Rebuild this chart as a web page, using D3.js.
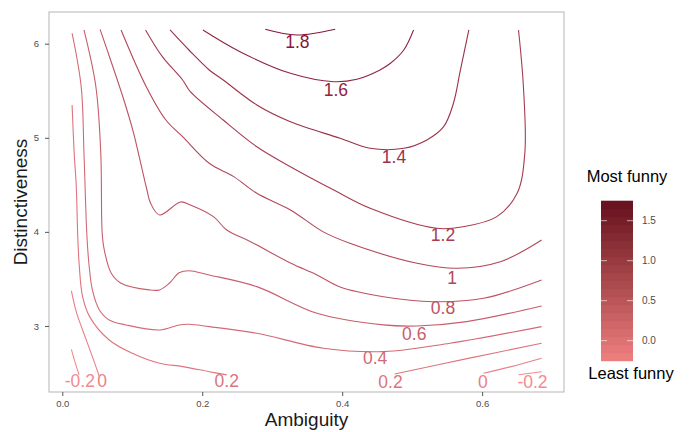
<!DOCTYPE html>
<meta charset="utf-8">
<head>
  <meta charset="utf-8">
  <script src="https://d3js.org/d3.v7.min.js"></script>
  <style>
    body { margin: 0; background: #fff; }
    text { font-family: "Liberation Sans", Arial, sans-serif; }
  </style>
</head>
<body>
<svg width="689" height="432"></svg>
<script>
// contour levels and tick values
var levels = [-0.2, 0, 0.2, 0.4, 0.6, 0.8, 1.0, 1.2, 1.4, 1.6, 1.8];
var xTicks = [0, 0.2, 0.4, 0.6];
var yTicks = [3, 4, 5, 6];
var legendTicks = [0, 0.5, 1.0, 1.5];

// contour lines, [ambiguity, distinctiveness]
var lineNeg02 = [[[0.013,2.752],[0.018,2.62],[0.024,2.48]],
                 [[0.652,2.482],[0.685,2.514]]];
var line00 = [[[0.013,3.372],[0.020,3.15],[0.029,2.957],[0.043,2.674],[0.053,2.461]],
              [[0.602,2.497],[0.64,2.565],[0.685,2.657]]];
var line02 = [[[0.014,5.349],[0.017,4.835],[0.020,4.48],[0.022,3.968],[0.024,3.666],[0.029,3.311],
               [0.039,3.099],[0.067,2.851],[0.100,2.71],[0.139,2.604],[0.172,2.568],[0.210,2.514],[0.235,2.48]],
              [[0.475,2.49],[0.58,2.655],[0.685,2.816]]];
var line04 = [[[0.014,6.111],[0.027,5.543],[0.031,4.835],[0.035,3.985],[0.038,3.666],[0.043,3.383],
               [0.053,3.17],[0.067,3.064],[0.091,3.011],[0.139,2.957],[0.167,3.011],[0.181,3.018],
               [0.210,2.993],[0.278,2.922],[0.373,2.763],[0.459,2.727],[0.554,2.816],[0.685,2.993]]];
var line06 = [[[0.031,6.146],[0.048,5.543],[0.055,4.835],[0.057,3.985],[0.060,3.808],[0.070,3.56],
               [0.084,3.454],[0.124,3.383],[0.139,3.383],[0.153,3.454],[0.167,3.566],[0.181,3.587],
               [0.210,3.542],[0.278,3.418],[0.364,3.135],[0.459,3.011],[0.507,3.0],[0.578,3.046],[0.685,3.213]]];
var line08 = [[[0.054,6.153],[0.069,5.827],[0.088,5.402],[0.102,5.048],[0.111,4.764],[0.121,4.445],
               [0.126,4.307],[0.139,4.18],[0.169,4.318],[0.183,4.286],[0.216,4.162],[0.235,4.02],
               [0.269,3.896],[0.326,3.669],[0.364,3.542],[0.397,3.414],[0.459,3.311],[0.530,3.258],
               [0.602,3.294],[0.685,3.489]]];
var line10 = [[[0.084,6.146],[0.120,5.543],[0.148,5.189],[0.172,5.012],[0.210,4.729],[0.245,4.587],
               [0.278,4.41],[0.326,4.233],[0.373,4.0],[0.411,3.879],[0.507,3.666],[0.564,3.613],
               [0.626,3.683],[0.685,3.914]]];
var line12 = [[[0.119,6.146],[0.143,5.862],[0.172,5.614],[0.183,5.49],[0.230,5.189],[0.278,4.905],
               [0.326,4.693],[0.388,4.445],[0.440,4.251],[0.535,4.038],[0.573,4.055],[0.621,4.162],
               [0.650,4.41],[0.661,4.835],[0.659,5.543],[0.652,6.146]]];
var line14 = [[[0.154,6.146],[0.181,5.933],[0.210,5.721],[0.230,5.614],[0.278,5.349],[0.326,5.171],
               [0.397,4.995],[0.440,4.888],[0.488,4.888],[0.521,4.977],[0.545,5.118],[0.559,5.367],
               [0.569,5.721],[0.581,6.146]]];
var line16 = [[[0.201,6.146],[0.254,5.915],[0.326,5.685],[0.388,5.596],[0.421,5.622],[0.454,5.721],
               [0.469,5.792],[0.488,5.933],[0.502,6.146]]];
var line18 = [[[0.290,6.153],[0.335,6.092],[0.390,6.153]]];

var contourSegs = [lineNeg02, line00, line02, line04, line06, line08, line10, line12, line14, line16, line18];

// in-line contour labels
var labelText  = ["1.8","1.6","1.4","1.2","1","0.8","0.6","0.4","0.2","0","-0.2","0.2","-0.2","0"];
var labelLevel = [1.8, 1.6, 1.4, 1.2, 1.0, 0.8, 0.6, 0.4, 0.2, 0, -0.2, 0.2, -0.2, 0];
var labelX     = [0.336,0.391,0.474,0.544,0.557,0.544,0.503,0.447,0.469,0.601,0.672,0.235,0.025,0.057];
var labelY     = [6.018,5.508,4.796,3.967,3.51,3.191,2.915,2.66,2.405,2.405,2.405,2.416,2.416,2.416];

var svg = d3.select("svg");
var margin = {top: 12, left: 49, right: 125, bottom: 40};
var W = +svg.attr("width"), H = +svg.attr("height");

var x = d3.scaleLinear().domain([-0.019, 0.717]).range([margin.left, W - margin.right]);
var y = d3.scaleLinear().domain([2.298, 6.337]).range([H - margin.bottom, margin.top]);
// fill colour for the legend bar
var color = d3.scaleLinear().domain([-0.25, 1.75]).range(["#f08080", "#66101e"])
  .interpolate(d3.interpolateLab).clamp(true);
// contour lines come out a bit more crimson than the bar
var lineColor = d3.scaleLinear().domain([-0.2, 1.8]).range(["#f48a90", "#871638"])
  .interpolate(d3.interpolateLab).clamp(true);

// panel border
svg.append("rect")
  .attr("x", x.range()[0]).attr("y", y.range()[1])
  .attr("width", x.range()[1] - x.range()[0]).attr("height", y.range()[0] - y.range()[1])
  .attr("fill", "none").attr("stroke", "#b5b5b5").attr("stroke-width", 1);

var line = d3.line()
  .x(function(d) { return x(d[0]); })
  .y(function(d) { return y(d[1]); })
  .curve(d3.curveCatmullRom.alpha(0.5));

levels.forEach(function(lv, i) {
  svg.append("g").selectAll("path")
    .data(contourSegs[i])
    .enter().append("path")
      .attr("d", line)
      .attr("fill", "none")
      .attr("stroke", lineColor(lv))
      .attr("stroke-width", 1.1);
});

svg.append("g").selectAll("text")
  .data(labelText)
  .enter().append("text")
    .attr("x", function(d, i) { return x(labelX[i]); })
    .attr("y", function(d, i) { return y(labelY[i]); })
    .attr("dy", "0.36em")
    .attr("text-anchor", "middle")
    .style("font-size", "17.5px")
    .attr("fill", function(d, i) { return lineColor(labelLevel[i]); })
    .text(function(d) { return d; });

// axes
var xAxis = svg.append("g")
  .attr("transform", "translate(0," + y.range()[0] + ")")
  .call(d3.axisBottom(x).tickValues(xTicks).tickFormat(d3.format(".1f")).tickSize(4).tickPadding(4));
var yAxis = svg.append("g")
  .attr("transform", "translate(" + x.range()[0] + ",0)")
  .call(d3.axisLeft(y).tickValues(yTicks).tickFormat(d3.format("d")).tickSize(4).tickPadding(6));
[xAxis, yAxis].forEach(function(a) {
  a.select(".domain").remove();
  a.selectAll(".tick line").attr("stroke", "#555");
  a.selectAll(".tick text").attr("fill", "#4d4d4d").style("font-size", "9.5px")
    .style("font-family", "'Liberation Sans', Arial, sans-serif");
});

svg.append("text")
  .attr("x", (x.range()[0] + x.range()[1]) / 2).attr("y", 426)
  .attr("text-anchor", "middle").style("font-size", "19px").attr("fill", "#1a1a1a")
  .text("Ambiguity");
svg.append("text")
  .attr("transform", "translate(27," + ((y.range()[0] + y.range()[1]) / 2) + ") rotate(-90)")
  .attr("text-anchor", "middle").style("font-size", "19px").attr("fill", "#1a1a1a")
  .text("Distinctiveness");

// legend colour bar
var lg = d3.scaleLinear().domain([-0.25, 1.75]).range([360.7, 200.7]);
var barX = 601, barW = 32, nbin = 20;
var binEdges = d3.range(nbin + 1).map(function(k) { return -0.25 + 2 * k / nbin; });
svg.append("g").selectAll("rect")
  .data(binEdges.slice(0, nbin))
  .enter().append("rect")
    .attr("x", barX)
    .attr("y", function(d) { return lg(d + 2 / nbin); })
    .attr("width", barW)
    .attr("height", function(d) { return lg(d) - lg(d + 2 / nbin) + 0.5; })
    .attr("fill", function(d) { return color(d + 1 / nbin); });

var lt = svg.append("g").selectAll("g").data(legendTicks).enter().append("g");
lt.append("line").attr("x1", barX).attr("x2", barX + 6)
  .attr("y1", function(d) { return lg(d); }).attr("y2", function(d) { return lg(d); })
  .attr("stroke", "#fff").attr("stroke-opacity", 0.6);
lt.append("line").attr("x1", barX + barW - 6).attr("x2", barX + barW)
  .attr("y1", function(d) { return lg(d); }).attr("y2", function(d) { return lg(d); })
  .attr("stroke", "#fff").attr("stroke-opacity", 0.6);
lt.append("text")
  .attr("x", 642).attr("y", function(d) { return lg(d); }).attr("dy", "0.35em")
  .style("font-size", "10px").attr("fill", "#4d4d4d")
  .text(function(d) { return d3.format(".1f")(d); });

svg.append("text").attr("x", 627).attr("y", 182).attr("text-anchor", "middle")
  .style("font-size", "16.5px").attr("fill", "#000").text("Most funny");
svg.append("text").attr("x", 631).attr("y", 379).attr("text-anchor", "middle")
  .style("font-size", "16.5px").attr("fill", "#000").text("Least funny");
</script>
</body>
